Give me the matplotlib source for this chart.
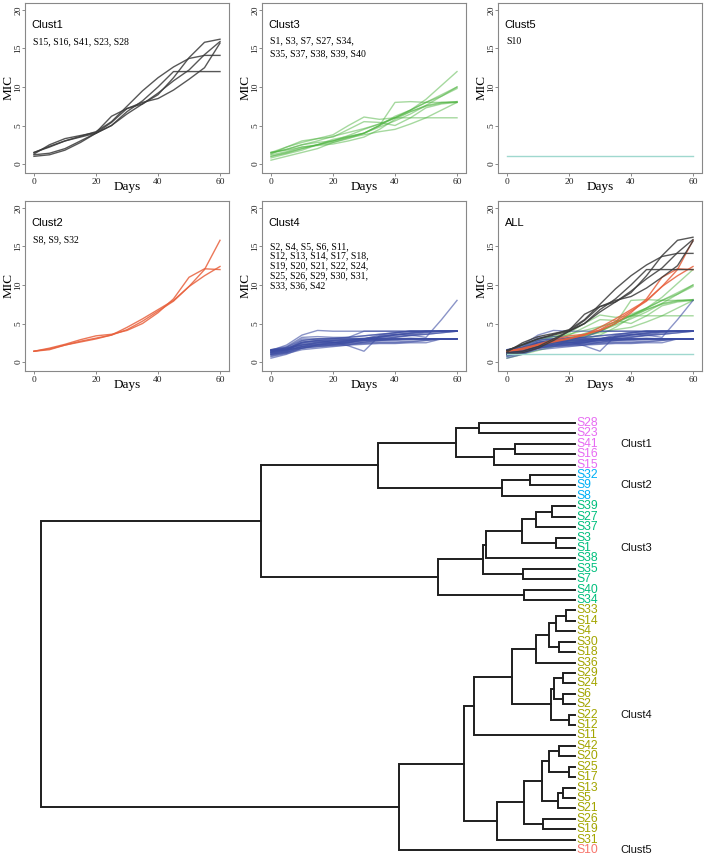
import matplotlib
matplotlib.use("Agg")
import matplotlib.pyplot as plt

# ---------------- data ----------------
days = [0, 5, 10, 15, 20, 25, 30, 35, 40, 45, 50, 55, 60]

clust1_series = [
    [1.5, 2.2, 3.0, 3.6, 4.2, 5.5, 7.5, 9.5, 11.2, 12.6, 13.7, 14.1, 14.1],
    [1.2, 1.4, 2.0, 3.0, 4.0, 5.0, 6.8, 8.2, 10.0, 12.0, 12.0, 12.0, 12.0],
    [1.0, 1.2, 1.8, 2.8, 4.0, 5.0, 6.5, 7.8, 9.0, 11.2, 13.8, 15.8, 16.2],
    [1.5, 2.3, 3.0, 3.5, 4.0, 5.4, 7.2, 8.0, 8.5, 9.6, 11.0, 12.5, 15.7],
    [1.3, 2.5, 3.3, 3.7, 4.1, 6.2, 7.2, 7.8, 9.2, 10.8, 12.2, 14.2, 15.9],
]
clust2_series = [
    [1.4, 1.6, 2.2, 2.6, 3.0, 3.5, 4.5, 5.6, 6.8, 8.0, 9.8, 12.0, 15.8],
    [1.4, 1.7, 2.2, 2.7, 3.1, 3.5, 4.2, 5.3, 6.6, 7.9, 9.8, 11.2, 12.4],
    [1.4, 1.8, 2.3, 2.9, 3.4, 3.6, 4.1, 5.0, 6.4, 8.2, 11.0, 12.1, 12.0],
]
clust3_series = [
    [1.5, 1.9, 2.5, 3.0, 3.6, 4.1, 4.6, 5.2, 6.0, 7.0, 8.4, 10.2, 12.0],
    [1.0, 1.4, 2.0, 2.5, 3.0, 3.5, 4.0, 5.0, 6.0, 7.0, 8.0, 9.0, 10.0],
    [1.2, 1.6, 2.2, 2.5, 2.8, 3.3, 4.0, 4.8, 5.6, 6.5, 7.6, 8.8, 10.0],
    [1.4, 1.9, 2.5, 2.8, 3.0, 3.5, 4.0, 5.0, 8.0, 8.1, 8.0, 8.0, 8.0],
    [1.5, 2.2, 2.8, 3.3, 3.8, 5.0, 6.1, 5.8, 6.0, 6.0, 6.0, 6.0, 6.0],
    [0.5, 1.0, 1.5, 2.0, 2.8, 3.4, 3.8, 4.2, 4.5, 5.2, 6.0, 7.0, 8.0],
    [1.0, 1.5, 2.0, 2.5, 3.0, 3.7, 4.5, 5.2, 6.0, 6.8, 7.5, 7.9, 8.1],
    [1.3, 2.2, 3.0, 3.3, 3.5, 4.5, 5.5, 5.4, 5.0, 6.0, 7.3, 7.8, 8.0],
    [0.8, 1.3, 1.8, 2.5, 3.2, 3.6, 4.0, 5.0, 6.2, 7.0, 8.0, 8.8, 9.8],
    [1.5, 1.8, 2.2, 2.4, 2.6, 3.0, 3.5, 4.5, 5.8, 6.8, 7.6, 8.0, 8.1],
]
clust4_series = [
    [1.5, 2.2, 3.5, 4.1, 4.0, 4.0, 4.0, 4.0, 4.0, 4.0, 4.0, 4.0, 4.0],
    [1.3, 1.6, 2.5, 2.8, 2.6, 2.1, 1.4, 3.4, 3.6, 3.5, 3.2, 5.5, 8.0],
    [1.6, 1.9, 2.8, 3.0, 3.0, 3.2, 4.0, 4.0, 4.0, 4.0, 4.0, 4.0, 4.0],
    [0.5, 1.0, 1.8, 2.2, 2.3, 2.4, 2.5, 2.6, 2.6, 2.7, 2.8, 3.0, 3.0],
    [1.0, 1.3, 2.2, 2.6, 2.7, 2.8, 3.0, 3.0, 3.0, 3.0, 3.0, 3.0, 3.0],
    [1.5, 1.8, 2.5, 2.8, 3.0, 3.0, 3.1, 3.3, 3.5, 3.8, 4.0, 4.0, 4.0],
    [1.2, 1.5, 2.0, 2.3, 2.5, 2.6, 2.8, 3.0, 3.2, 3.5, 3.8, 4.0, 4.0],
    [0.8, 1.2, 1.8, 2.0, 2.1, 2.2, 2.3, 2.4, 2.4, 2.5, 2.5, 3.0, 3.0],
    [1.4, 1.6, 2.0, 2.5, 2.8, 3.0, 3.0, 3.0, 3.0, 3.0, 3.0, 3.0, 3.0],
    [1.0, 1.4, 2.6, 2.8, 2.8, 2.9, 3.0, 3.2, 3.5, 3.7, 3.9, 4.0, 4.0],
    [1.6, 1.7, 2.2, 2.3, 2.5, 2.8, 3.0, 3.0, 3.0, 3.1, 3.0, 3.0, 3.0],
    [0.7, 1.1, 1.6, 1.8, 2.0, 2.2, 2.6, 2.8, 3.0, 3.0, 3.0, 3.0, 3.0],
    [1.3, 1.9, 3.0, 3.0, 3.0, 3.0, 3.0, 3.2, 3.5, 3.7, 3.9, 4.0, 4.0],
    [1.5, 1.6, 1.8, 2.0, 2.2, 2.5, 3.0, 3.5, 3.8, 4.0, 4.0, 4.0, 4.0],
    [1.1, 1.5, 2.4, 2.6, 2.5, 2.5, 2.6, 2.8, 2.9, 3.0, 3.0, 3.0, 3.0],
    [1.2, 1.6, 2.8, 3.0, 3.1, 3.2, 3.4, 3.6, 3.8, 4.0, 4.0, 4.0, 4.0],
    [1.5, 1.8, 2.2, 2.5, 2.6, 2.7, 2.8, 2.9, 3.0, 3.0, 3.0, 3.0, 3.0],
    [0.9, 1.2, 2.0, 2.2, 2.3, 2.5, 2.8, 3.0, 3.2, 3.4, 3.6, 3.8, 4.0],
    [1.3, 1.7, 2.6, 2.7, 2.8, 2.8, 3.0, 3.3, 3.6, 3.8, 4.0, 4.0, 4.0],
    [1.6, 2.0, 3.2, 3.3, 3.2, 3.2, 3.4, 3.6, 3.8, 4.0, 4.0, 4.0, 4.0],
    [1.0, 1.3, 1.8, 2.2, 2.4, 2.6, 2.8, 2.8, 2.8, 2.9, 3.0, 3.0, 3.0],
    [1.4, 1.7, 2.3, 2.4, 2.5, 2.7, 3.0, 3.2, 3.3, 3.5, 3.6, 3.8, 4.0],
    [1.2, 1.4, 2.0, 2.1, 2.2, 2.3, 2.4, 2.5, 2.5, 2.6, 2.8, 3.0, 3.0],
]
clust5_series = [
    [1.0, 1.0, 1.0, 1.0, 1.0, 1.0, 1.0, 1.0, 1.0, 1.0, 1.0, 1.0, 1.0],
]

cluster_names = ["Clust1", "Clust2", "Clust3", "Clust4", "Clust5"]
cluster_members = {
    "Clust1": ["S15, S16, S41, S23, S28"],
    "Clust2": ["S8, S9, S32"],
    "Clust3": ["S1, S3, S7, S27, S34,", "S35, S37, S38, S39, S40"],
    "Clust4": ["S2, S4, S5, S6, S11,", "S12, S13, S14, S17, S18,",
               "S19, S20, S21, S22, S24,", "S25, S26, S29, S30, S31,",
               "S33, S36, S42"],
    "Clust5": ["S10"],
}
line_colors = {"Clust1": "#3a3a3a", "Clust2": "#E8603C", "Clust3": "#4DB33F",
               "Clust4": "#3D4DA3", "Clust5": "#9FD8CF"}
line_alpha = {"Clust1": 0.85, "Clust2": 0.85, "Clust3": 0.5, "Clust4": 0.6, "Clust5": 1.0}
series = {"Clust1": clust1_series, "Clust2": clust2_series, "Clust3": clust3_series,
          "Clust4": clust4_series, "Clust5": clust5_series}
x_ticks = [0, 20, 40, 60]
y_ticks = [0, 5, 10, 15, 20]

leaf_order = ["S28", "S23", "S41", "S16", "S15", "S32", "S9", "S8", "S39", "S27",
              "S37", "S3", "S1", "S38", "S35", "S7", "S40", "S34", "S33", "S14",
              "S4", "S30", "S18", "S36", "S29", "S24", "S6", "S2", "S22", "S12",
              "S11", "S42", "S20", "S25", "S17", "S13", "S5", "S21", "S26", "S19",
              "S31", "S10"]
leaf_cluster_sizes = [5, 3, 10, 23, 1]
leaf_colors = {"Clust1": "#E76BF3", "Clust2": "#00B0F6", "Clust3": "#00BF7D",
               "Clust4": "#A3A500", "Clust5": "#F8766D"}
# merges: (child a, child b, height); ints refer to earlier merges
merges = [
    ("S28", "S23", 0.96), ("S41", "S16", 0.60), (1, "S15", 0.81), (0, 2, 1.19),
    ("S32", "S9", 0.45), (4, "S8", 0.73), (3, 5, 1.97),
    ("S39", "S27", 0.23), (7, "S37", 0.39), ("S3", "S1", 0.19), (8, 9, 0.53),
    (10, "S38", 0.89), ("S35", "S7", 0.52), (11, 12, 0.92), ("S40", "S34", 0.51),
    (13, 14, 1.37), (6, 15, 3.14),
    ("S33", "S14", 0.09), (17, "S4", 0.19), ("S30", "S18", 0.16), (18, 19, 0.26),
    (20, "S36", 0.39), ("S29", "S24", 0.12), ("S6", "S2", 0.12), (22, 23, 0.21),
    ("S22", "S12", 0.06), (24, 25, 0.24), (21, 26, 0.63), (27, "S11", 1.01),
    ("S42", "S20", 0.16), ("S25", "S17", 0.06), (29, 30, 0.26), ("S13", "S5", 0.12),
    (32, "S21", 0.17), (31, 33, 0.33), ("S26", "S19", 0.32), (34, 35, 0.51),
    (36, "S31", 0.78), (28, 37, 1.11), (38, "S10", 1.76), (16, 39, 5.34),
]

# ---------------- figure ----------------
W, H = 708, 857
fig = plt.figure(figsize=(W / 100, H / 100), dpi=100)
SERIF = "Liberation Serif"
SANS = "Liberation Sans"


def add_ax_px(l, t, w, h):
    return fig.add_axes([l / W, 1 - (t + h) / H, w / W, h / H])


panel_layout = [["Clust1", "Clust3", "Clust5"], ["Clust2", "Clust4", "ALL"]]
col_left = [25, 262, 498]
row_top = [3, 201]
pw, ph = 204, 169.5
# text placement of member lists (first line y in data units, line step)
list_first = {"Clust1": 15.9, "Clust2": 15.9, "Clust3": 16.0, "Clust4": 15.0, "Clust5": 15.9}
list_step = {"Clust1": 1.6, "Clust2": 1.6, "Clust3": 1.65, "Clust4": 1.27, "Clust5": 1.6}

for r, row in enumerate(panel_layout):
    for c, name in enumerate(row):
        ax = add_ax_px(col_left[c], row_top[r], pw, ph)
        if name == "ALL":
            order = ["Clust3", "Clust4", "Clust2", "Clust1", "Clust5"]
        else:
            order = [name]
        for cn in order:
            for s in series[cn]:
                ax.plot(days, s, color=line_colors[cn], alpha=line_alpha[cn], lw=1.0)
        ax.set_xlim(-2.9, 62.9)
        ax.set_ylim(-1.1, 20.9)
        ax.set_xticks(x_ticks)
        ax.set_yticks(y_ticks)
        ax.set_xticklabels([str(v) for v in x_ticks], fontfamily=SERIF, fontsize=6.8)
        ax.set_yticklabels([str(v) for v in y_ticks], fontfamily=SERIF, fontsize=6.8)
        ax.tick_params(length=2.2, width=0.6, color="#777777", labelcolor="#222222")
        ax.tick_params(axis="x", pad=1.5)
        ax.tick_params(axis="y", pad=1.0)
        for lbl in ax.get_yticklabels():
            lbl.set_rotation(90)
            lbl.set_rotation_mode("anchor")
            lbl.set_ha("center")
            lbl.set_va("baseline")
        for sp in ax.spines.values():
            sp.set_color("#888888")
            sp.set_linewidth(0.8)
        ax.text(-0.082, 0.5, "MIC", transform=ax.transAxes, rotation=90, ha="center",
                va="center", fontfamily=SERIF, fontsize=9.5)
        ax.text(0.5, -0.085, "Days", transform=ax.transAxes, ha="center", va="center",
                fontfamily=SERIF, fontsize=9.5)
        ax.text(0.033, 0.87, name, transform=ax.transAxes, ha="left", va="center",
                fontfamily=SANS, fontsize=8)
        if name != "ALL":
            for j, line in enumerate(cluster_members[name]):
                ax.text(-0.3, list_first[name] - j * list_step[name], line,
                        ha="left", va="center", fontfamily=SERIF, fontsize=7)

# ---------------- dendrogram ----------------
dax = add_ax_px(41, 423, 575 - 41, 850 - 423)
dax.axis("off")
root_h = merges[-1][2]
dax.set_xlim(root_h, 0)
dax.set_ylim(len(leaf_order) - 1, 0)

pos = {leaf: i for i, leaf in enumerate(leaf_order)}
hgt = {leaf: 0.0 for leaf in leaf_order}
for k, (a, b, h) in enumerate(merges):
    ya, yb = pos[a], pos[b]
    dax.plot([hgt[a], h, h, hgt[b]], [ya, ya, yb, yb], color="#1e1e1e", lw=1.4,
             clip_on=False, solid_joinstyle="miter")
    pos[k] = (ya + yb) / 2
    hgt[k] = h

start = 0
label_rows = []
for cn, size in zip(cluster_names, leaf_cluster_sizes):
    for i in range(start, start + size):
        dax.annotate(leaf_order[i], xy=(0, i), xytext=(1, 0), textcoords="offset points",
                     ha="left", va="center", color=leaf_colors[cn], fontfamily=SANS,
                     fontsize=8.7, annotation_clip=False)
    label_rows.append((start + start + size - 1) // 2)
    start += size
label_rows[3] -= 1
for cn, row in zip(cluster_names, label_rows):
    dax.annotate(cn, xy=(0, row), xytext=(33, 0), textcoords="offset points",
                 ha="left", va="center", color="#111111", fontfamily=SANS,
                 fontsize=8, annotation_clip=False)

fig.savefig("out.png", dpi=100)
